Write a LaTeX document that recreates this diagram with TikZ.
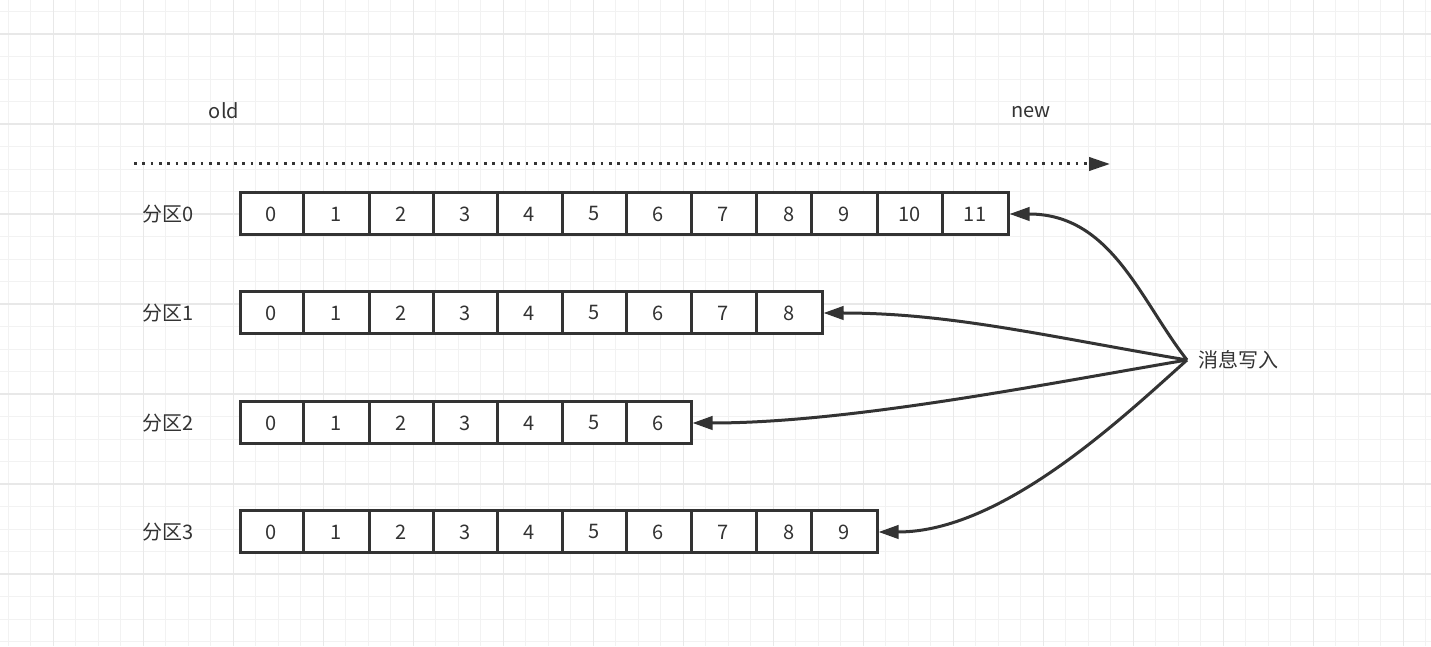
\documentclass[tikz,border=0pt]{standalone}
\usepackage{fontspec}
\setmainfont{Noto Sans CJK SC}
\usetikzlibrary{arrows.meta,calc}

\definecolor{inkgray}{HTML}{333333}
\definecolor{gridlight}{HTML}{F2F2F2}
\definecolor{griddark}{HTML}{E8E8E8}

\tikzset{
	minorline/.style={draw=gridlight, line width=0.75pt},
	majorline/.style={draw=griddark, line width=1.2pt},
	plaintext/.style={text=inkgray, inner sep=0pt, font=\fontsize{15pt}{18pt}\selectfont},
	cellbox/.style={draw=inkgray, line width=2.25pt, fill=white, inner sep=0pt,
		minimum height=31.5pt, text=inkgray, font=\fontsize{15pt}{18pt}\selectfont},
	timeline/.style={draw=inkgray, line width=2.25pt, dash pattern=on 2.1pt off 4.15pt,
		-{Triangle[length=15.75pt,width=10pt]}},
	writeline/.style={draw=inkgray, line width=2.25pt, -{Triangle[length=15pt,width=10pt]}}
}

\begin{document}
\begin{tikzpicture}[x=0.75pt, y=0.75pt]
	% background and grid
	\useasboundingbox (0,0) rectangle (1431,646);
	\fill[white] (0,0) rectangle (1431,646);
	\foreach \k in {0,...,63}
		\draw[minorline] ({8.3+22.5*\k},0) -- ++(0,646);
	\foreach \k in {0,...,28}
		\draw[minorline] (0,{634.2-22.5*\k}) -- ++(1431,0);
	\foreach \k in {0,...,15}
		\draw[majorline] ({53.3+90*\k},0) -- ++(0,646);
	\foreach \k in {0,...,6}
		\draw[majorline] (0,{611.7-90*\k}) -- ++(1431,0);
	
	% time direction
	\node[plaintext] (old) at (224,535) {old};
	\node[plaintext] (new) at (1031,534) {new};
	\coordinate (tstart) at (134,482);
	\coordinate (tend) at (1110,482);
	\draw[timeline] (tstart) -- (tend);
	
	% partitions
	\foreach \row/\y/\last in {0/432/11, 1/333/8, 2/223/6, 3/114/9}{
		\node[plaintext] (p\row) at (168,\y) {分区\row};
		\foreach \i/\xa/\xb in {0/240/303, 1/303/369, 2/369/433, 3/433/497,
			4/497/562, 5/562/626, 6/626/691, 7/691/756, 8/756/822,
			9/811/877, 10/877/942, 11/942/1008}{
			\ifnum\i>\last\else
				\node[cellbox, minimum width={(\xb-\xa)*0.75pt}] (r\row-\i)
					at ({(\xa+\xb)/2},\y) {\i};
			\fi
		}
	}
	
	% producer
	\node[plaintext, anchor=west] (msg) at (1198,286) {消息写入};
	\coordinate (src) at (1187,286);
	
	\draw[writeline] (src) .. controls ($(src)+(-47,60)$) and ($(r0-11.east)+(102,0)$) .. (r0-11.east);
	\draw[writeline] (src) .. controls ($(src)+(-137,23)$) and ($(r1-8.east)+(128,0)$) .. (r1-8.east);
	\draw[writeline] (src) .. controls ($(src)+(-137,-23)$) and ($(r2-6.east)+(159,0)$) .. (r2-6.east);
	\draw[writeline] (src) .. controls ($(src)+(-67,-60)$) and ($(r3-9.east)+(123,0)$) .. (r3-9.east);
\end{tikzpicture}
\end{document}
